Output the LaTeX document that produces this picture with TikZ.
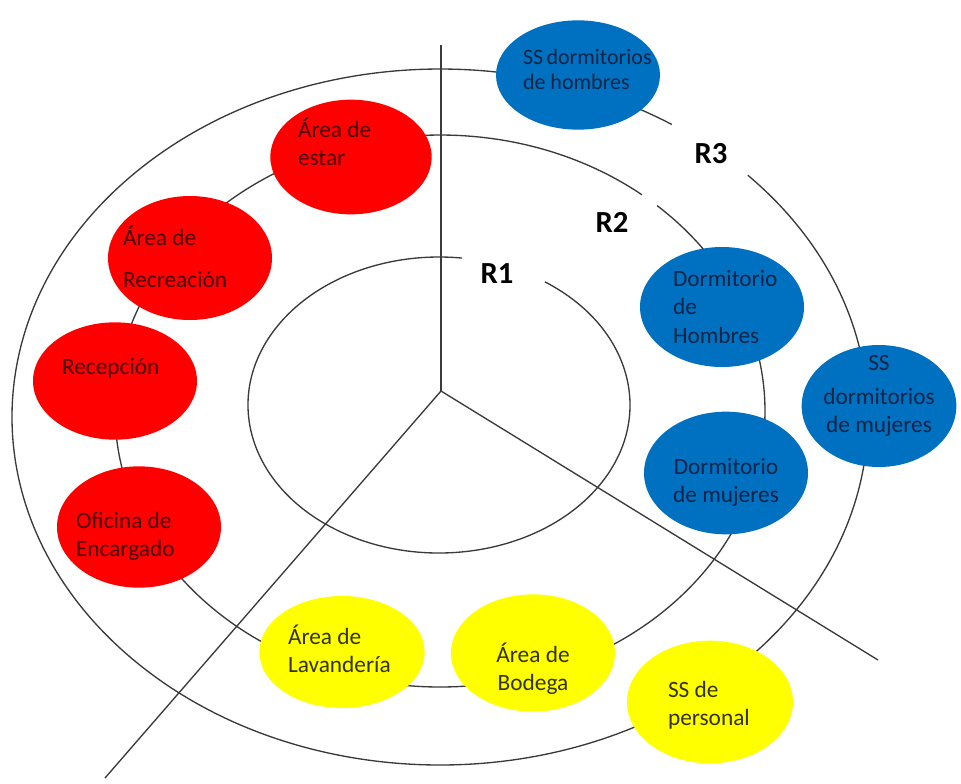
\documentclass[tikz,border=0pt]{standalone}
\usepackage{fontspec}
\setmainfont{Carlito}
\usetikzlibrary{shapes.geometric}
\definecolor{ink}{HTML}{3A3A3A}
\definecolor{zonered}{HTML}{FF0000}
\definecolor{zoneblue}{HTML}{0070C0}
\definecolor{zoneyellow}{HTML}{FFFF00}
\definecolor{redtext}{HTML}{4A0000}
\definecolor{bluetext}{HTML}{0A2547}
\definecolor{yellowtext}{HTML}{333300}
\hyphenpenalty=10000

\begin{document}
\begin{tikzpicture}[
  x=0.75pt, y=-0.75pt,
  font=\fontsize{17.5}{21.6}\selectfont,
  room/.style={ellipse, minimum width=123pt, minimum height=89pt,
    inner xsep=-25pt, inner ysep=-10pt, align=flush left, text width=80pt},
  redroom/.style={room, fill=zonered, text=redtext},
  blueroom/.style={room, fill=zoneblue, text=bluetext},
  yellowroom/.style={room, fill=zoneyellow, text=yellowtext},
  textdrop/.style={text height=#1, text depth=0pt},
  textlift/.style={text height=0pt, text depth=#1},
  ring/.style={draw=ink, line width=1pt},
  zonelabel/.style={font=\fontsize{23}{27}\selectfont\bfseries, text=black, inner sep=0pt}
]
\fill[white] (0,0) rectangle (961,783);
\useasboundingbox (0,0) rectangle (961,783);

\draw[ring] (439,405) ++(-56.3:191 and 148)
  arc[start angle=-56.3, end angle=276.9, x radius=191, y radius=148];
\draw[ring] (440,411) ++(-48.1:325 and 276)
  arc[start angle=-48.1, end angle=308.4, x radius=325, y radius=276];
\draw[ring] (440,417) ++(-44:428 and 348)
  arc[start angle=-44, end angle=302.8, x radius=428, y radius=348];

\coordinate (hub) at (441,391);
\coordinate (northend) at (441,45);
\coordinate (westend) at (105,778);
\coordinate (eastend) at (878,660);
\draw[ring] (hub) -- (northend);
\draw[ring] (hub) -- (westend);
\draw[ring] (hub) -- (eastend);

\node[blueroom, minimum height=82pt, text width=82.5pt, textlift=16.5pt,
  font=\fontsize{16.5}{19}\selectfont] (sshombres) at (578,75) {SS~dormitorios\\de hombres};
\node[redroom, minimum width=121pt, minimum height=86pt, text width=79.5pt, textlift=30pt] (estar) at (351,157) {Área de\\estar};
\node[redroom, minimum height=93pt, text width=100.5pt, textlift=19.5pt] (recreacion) at (190,258) {Área de\\[10pt]Recreación};
\node[redroom, minimum height=88pt, text width=79.5pt, textlift=10.5pt] (recepcion) at (115,381) {Recepción};
\node[redroom, minimum height=91pt, text width=94.5pt, textdrop=1.5pt] (oficina) at (139,527) {Oficina de\\Encargado};
\node[blueroom, minimum height=90pt, text width=73.5pt, textlift=31.5pt] (dormhombres) at (722,307) {Dormitorio\\de\\Hombres};
\node[blueroom, minimum height=92pt, text width=100pt, align=flush center, textdrop=1.5pt] (dormmujeres) at (726,473) {Dormitorio\\de mujeres};
\node[blueroom, minimum width=116pt, minimum height=91.5pt, text width=100pt, align=flush center, textlift=54pt] (ssmujeres) at (879,406) {SS\\[4pt]dormitorios\\de mujeres};
\node[yellowroom, minimum width=124pt, minimum height=84pt, text width=81pt, textlift=12pt] (lavanderia) at (342,652) {Área de\\Lavandería};
\node[yellowroom, minimum height=88pt, text width=100pt, align=flush center, textdrop=13.5pt] (bodega) at (533,653) {Área de\\Bodega};
\node[yellowroom, minimum width=124.5pt, minimum height=92pt, text width=63pt, textlift=7.5pt] (sspersonal) at (710,702) {SS de\\personal};

\node[zonelabel] (rone) at (497,274) {R1};
\node[zonelabel] (rtwo) at (612,222) {R2};
\node[zonelabel] (rthree) at (711,154) {R3};
\end{tikzpicture}
\end{document}
